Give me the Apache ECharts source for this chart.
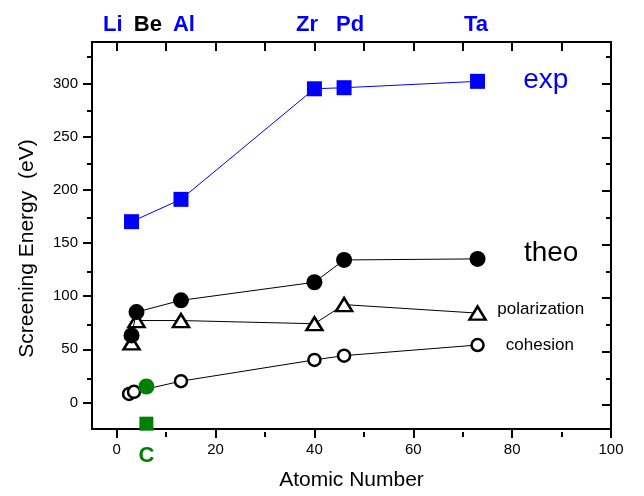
<!DOCTYPE html>
<html>
<head>
<meta charset="utf-8">
<script src="https://cdn.jsdelivr.net/npm/echarts@6/dist/echarts.min.js"></script>
<style>
html,body{margin:0;padding:0;background:#fff;}
#main{width:644px;height:496px;}
</style>
</head>
<body>
<div id="main"></div>
<script>
// ---- data ----
const elements = ['Li', 'Be', 'Al', 'Zr', 'Pd', 'Ta'];
const elementLabelPos = [-0.8, 6.3, 13.6, 38.5, 47.2, 72.7];
const expZ = [3, 13, 40, 46, 73];
const expVals = [170, 191, 295, 296, 302];
const theoZ = [3, 4, 13, 40, 46, 73];
const theoVals = [63, 85, 96, 113, 134, 135];
const polZ = [3, 4, 13, 40, 46, 73];
const polVals = [56, 77, 77, 74, 92, 84];
const cohZ = [2.5, 3.5, 13, 40, 46, 73];
const cohVals = [8, 10, 20, 40, 44, 54];
const carbonZ = 6;
const carbonCircle = 15;
const carbonSquare = -20;
const xTicks = [0, 20, 40, 60, 80, 100];
const xMinorTicks = [10, 30, 50, 70, 90];
const topTicks = [0, 10, 20, 30, 40, 50, 60, 70, 80, 90, 100];
const yTicks = [0, 50, 100, 150, 200, 250, 300];
const yMinorTicks = [25, 75, 125, 175, 225, 275, 325];

const X_MIN = -5, X_MAX = 100, Y_MIN = -25, Y_MAX = 339;
const FONT = "'Liberation Sans', Arial, Helvetica, sans-serif";
const BLUE = '#0000ff', GREEN = '#008000';

const zip = (a, b) => a.map((v, i) => [v, b[i]]);
const RECT = { left: 92, right: 33, top: 42, bottom: 64 };
const TICK = { color: '#000', width: 2 };

function xAx(g, pos, extra) {
  return Object.assign({
    gridIndex: g, type: 'value', min: X_MIN, max: X_MAX, position: pos,
    axisLine: { show: false, onZero: false }, splitLine: { show: false },
    axisTick: { show: false }, axisLabel: { show: false }
  }, extra);
}
function yAx(g, pos, extra) {
  return Object.assign({
    gridIndex: g, type: 'value', min: Y_MIN, max: Y_MAX, position: pos,
    axisLine: { show: false, onZero: false }, splitLine: { show: false },
    axisTick: { show: false }, axisLabel: { show: false }
  }, extra);
}

const option = {
  animation: false,
  backgroundColor: '#fff',
  textStyle: { fontFamily: FONT },
  grid: [
    Object.assign({ show: true, borderColor: '#000', borderWidth: 2, backgroundColor: 'transparent' }, RECT),
    Object.assign({}, RECT),
    Object.assign({}, RECT),
    Object.assign({}, RECT)
  ],
  xAxis: [
    xAx(0, 'bottom', {
      name: 'Atomic Number', nameLocation: 'middle', nameGap: 41,
      nameTextStyle: { fontSize: 21, color: '#000', fontFamily: FONT },
      axisTick: { show: true, inside: false, length: 9, customValues: xTicks, lineStyle: TICK },
      axisLabel: { show: true, customValues: xTicks, margin: 13, fontSize: 15, color: '#000', fontFamily: FONT }
    }),
    xAx(1, 'bottom', {
      axisTick: { show: true, inside: false, length: 5, customValues: xMinorTicks, lineStyle: TICK }
    }),
    xAx(2, 'top', {
      axisTick: { show: true, inside: true, length: 9, customValues: topTicks, lineStyle: TICK },
      axisLabel: { show: true, customValues: elementLabelPos, margin: 6,
        formatter: (v) => {
          const i = elementLabelPos.indexOf(v);
          const name = elements[i >= 0 ? i : 0];
          return (name === 'Be' ? '{k|' : '{b|') + name + '}';
        },
        rich: {
          b: { fontSize: 22, fontWeight: 'bold', color: BLUE, fontFamily: FONT },
          k: { fontSize: 22, fontWeight: 'bold', color: '#000', fontFamily: FONT }
        }
      }
    }),
    xAx(3, 'bottom', {
      axisLabel: { show: true, customValues: [carbonZ], margin: 13, formatter: () => 'C',
        fontSize: 22, fontWeight: 'bold', color: GREEN, fontFamily: FONT }
    })
  ],
  yAxis: [
    yAx(0, 'left', {
      name: 'Screening Energy  (eV)', nameLocation: 'middle', nameGap: 54,
      nameTextStyle: { fontSize: 21, color: '#000', fontFamily: FONT, padding: [0, 26, 0, 0] },
      axisTick: { show: true, inside: false, length: 9, customValues: yTicks, lineStyle: TICK },
      axisLabel: { show: true, customValues: yTicks, margin: 14, fontSize: 15, color: '#000', fontFamily: FONT }
    }),
    yAx(1, 'left', {
      axisTick: { show: true, inside: false, length: 5, customValues: yMinorTicks, lineStyle: TICK }
    }),
    yAx(2, 'right', {
      axisTick: { show: true, inside: true, length: 9, customValues: yTicks, lineStyle: TICK }
    }),
    yAx(3, 'right', {
      axisTick: { show: true, inside: true, length: 5, customValues: yMinorTicks, lineStyle: TICK }
    })
  ],
  series: [
    {
      name: 'exp', type: 'line', data: zip(expZ, expVals),
      symbol: 'rect', symbolSize: 15, showAllSymbol: true,
      lineStyle: { color: BLUE, width: 1 }, itemStyle: { color: BLUE, borderWidth: 0 },
      emphasis: { disabled: true }, z: 3
    },
    {
      name: 'cohesion', type: 'line', data: zip(cohZ, cohVals),
      symbol: 'circle', symbolSize: 12, showAllSymbol: true,
      lineStyle: { color: '#000', width: 1 },
      itemStyle: { color: '#fff', borderColor: '#000', borderWidth: 2.5 },
      emphasis: { disabled: true }, z: 3
    },
    {
      name: 'polarization', type: 'line', data: zip(polZ, polVals),
      symbol: 'triangle', symbolSize: [16, 13], showAllSymbol: true,
      lineStyle: { color: '#000', width: 1 },
      itemStyle: { color: '#fff', borderColor: '#000', borderWidth: 2.5 },
      emphasis: { disabled: true }, z: 4
    },
    {
      name: 'theo', type: 'line', data: zip(theoZ, theoVals),
      symbol: 'circle', symbolSize: 16, showAllSymbol: true,
      lineStyle: { color: '#000', width: 1 }, itemStyle: { color: '#000', borderWidth: 0 },
      emphasis: { disabled: true }, z: 5
    },
    {
      name: 'C circle', type: 'scatter', data: [[carbonZ, carbonCircle]],
      symbol: 'circle', symbolSize: 16, itemStyle: { color: GREEN, opacity: 1 },
      emphasis: { disabled: true }, z: 6
    },
    {
      name: 'C square', type: 'scatter', data: [[carbonZ, carbonSquare]],
      symbol: 'rect', symbolSize: 14, itemStyle: { color: GREEN, opacity: 1 },
      emphasis: { disabled: true }, z: 6
    }
  ]
};

const chart = echarts.init(document.getElementById('main'), null, { renderer: 'canvas' });
chart.setOption(option);

const px = (x, y) => chart.convertToPixel({ seriesIndex: 0 }, [x, y]);
const notes = [
  { text: 'exp', at: [86.8, 303], size: 28, color: BLUE },
  { text: 'theo', at: [87.9, 140], size: 28, color: '#000' },
  { text: 'polarization', at: [85.8, 88], size: 17, color: '#000' },
  { text: 'cohesion', at: [85.6, 54], size: 17, color: '#000' }
];
chart.setOption({
  graphic: notes.map(n => {
    const p = px(n.at[0], n.at[1]);
    return {
      type: 'text', x: p[0], y: p[1], z: 10,
      style: { text: n.text, fill: n.color, fontSize: n.size, fontFamily: FONT, align: 'center', verticalAlign: 'middle' }
    };
  })
});
</script>
</body>
</html>
